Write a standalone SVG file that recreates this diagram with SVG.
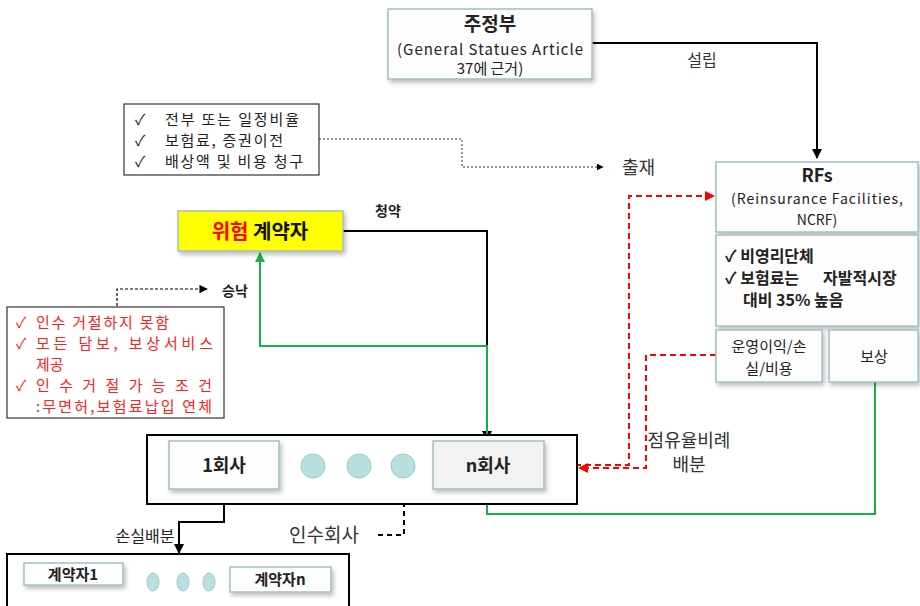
<svg xmlns="http://www.w3.org/2000/svg" width="920" height="606" viewBox="0 0 920 606">
<style>
text{font-family:"Noto Sans CJK KR","Noto Sans",sans-serif;}
.box{fill:#fdfdfd;stroke:#a3bfbf;stroke-width:1.5;filter:url(#sh);}
.frame{fill:#fff;stroke:#000;stroke-width:2;}
.thin{fill:#fff;stroke:#333;stroke-width:1.2;}
.dot{fill:#b9dfe0;stroke:#9cc7c9;stroke-width:1;}
.t{fill:#222;}
.g{fill:#333;}
.r{fill:#ff2020;}
.blk{fill:none;stroke:#000;stroke-width:2;}
.grn{fill:none;stroke:#18b04a;stroke-width:2;}
.red{fill:none;stroke:#ff0000;stroke-width:2;stroke-dasharray:6,4;}
.dsh{fill:none;stroke:#000;stroke-width:2;stroke-dasharray:5,4;}
.dot1{fill:none;stroke:#333;stroke-width:1;stroke-dasharray:2,2;}
</style>
<defs>
<filter id="sh" x="-10%" y="-10%" width="130%" height="140%"><feDropShadow dx="2" dy="3" stdDeviation="2" flood-color="#000" flood-opacity="0.25"/></filter>
<marker id="ab" viewBox="0 0 10 10" refX="9" refY="5" markerWidth="5" markerHeight="5" orient="auto"><path d="M0,0L10,5L0,10z" fill="#000"/></marker>
<marker id="ag" viewBox="0 0 10 10" refX="9" refY="5" markerWidth="5" markerHeight="5" orient="auto"><path d="M0,0L10,5L0,10z" fill="#18b04a"/></marker>
<marker id="ar" viewBox="0 0 10 10" refX="9" refY="5" markerWidth="5" markerHeight="5" orient="auto"><path d="M0,0L10,5L0,10z" fill="#ff0000"/></marker>
<marker id="as" viewBox="0 0 10 10" refX="9" refY="5" markerWidth="7" markerHeight="7" orient="auto"><path d="M0,0L10,5L0,10z" fill="#000"/></marker>
</defs>

<g id="connectors">
<path class="blk" d="M592,43H817V158" marker-end="url(#ab)"/>
<path class="dot1" d="M319,139H462V167H603" marker-end="url(#as)"/>
<path class="red" d="M545,465H629V196H714" marker-end="url(#ar)"/>
<path class="red" d="M716,355H646V468H579" marker-end="url(#ar)"/>
<path class="blk" d="M343,231H487V440" marker-end="url(#ab)"/>
<path class="grn" d="M487,441V346H260V253" marker-end="url(#ag)"/>
<path class="grn" d="M875,382V514H487V491" marker-end="url(#ag)"/>
<path class="dsh" d="M117,306V289H207" marker-end="url(#as)" style="stroke-width:1.2;stroke-dasharray:3,2"/>
<path class="dsh" d="M403,466H432" marker-end="url(#ab)"/>
<path class="dsh" d="M404,466V535H375"/>
<path class="blk" d="M224,489V522H179V553" marker-end="url(#ab)"/>
</g>

<g id="labels">
<text class="g" x="702" y="66" font-size="16" text-anchor="middle">설립</text>
<text class="g" x="622" y="174" font-size="18">출재</text>
<text class="t" x="388" y="216" font-size="14" font-weight="bold" text-anchor="middle">청약</text>
<text class="t" x="222" y="296" font-size="14" font-weight="bold">승낙</text>
<text class="g" x="689" y="447" font-size="18" text-anchor="middle">점유율비례</text>
<text class="g" x="689" y="471" font-size="18" text-anchor="middle">배분</text>
<text class="g" x="324" y="542" font-size="19" text-anchor="middle">인수회사</text>
<text class="t" x="145" y="542" font-size="16" text-anchor="middle">손실배분</text>
</g>

<g id="gov">
<rect class="box" x="388" y="9" width="204" height="70"/>
<text class="t" x="490" y="31" font-size="19" font-weight="bold" text-anchor="middle">주정부</text>
<text class="t" x="490" y="55" font-size="15" text-anchor="middle" textLength="186">(General Statues Article</text>
<text class="t" x="490" y="74" font-size="15" text-anchor="middle">37에 근거)</text>
</g>

<g id="cession-list">
<rect class="thin" x="124" y="104" width="195" height="71"/>
<text class="t" font-size="15"><tspan x="135" y="125">✓</tspan><tspan x="165" y="125" textLength="134">전부 또는 일정비율</tspan><tspan x="135" y="146">✓</tspan><tspan x="165" y="146" textLength="118">보험료, 증권이전</tspan><tspan x="135" y="167">✓</tspan><tspan x="165" y="167" textLength="138">배상액 및 비용 청구</tspan></text>
</g>

<g id="rfs">
<rect class="box" x="716" y="162" width="202" height="70"/>
<text class="t" x="817" y="182" font-size="18" font-weight="bold" text-anchor="middle">RFs</text>
<text class="t" x="817" y="204" font-size="14" text-anchor="middle" textLength="172">(Reinsurance Facilities,</text>
<text class="t" x="817" y="225" font-size="14" text-anchor="middle">NCRF)</text>
</g>

<g id="rfs-info">
<rect class="box" x="716" y="235" width="202" height="91"/>
<text class="t" font-size="16" font-weight="bold"><tspan x="725" y="262">✓ 비영리단체</tspan><tspan x="725" y="284">✓ 보험료는</tspan><tspan x="823" y="284">자발적시장</tspan><tspan x="743" y="306">대비 35% 높음</tspan></text>
</g>

<g id="operating">
<rect class="box" x="716" y="330" width="106" height="52"/>
<text class="t" x="769" y="352" font-size="15" text-anchor="middle">운영이익/손</text>
<text class="t" x="769" y="374" font-size="15" text-anchor="middle">실/비용</text>
</g>

<g id="compensation">
<rect class="box" x="829" y="330" width="89" height="52"/>
<text class="t" x="874" y="362" font-size="15" text-anchor="middle">보상</text>
</g>

<g id="policyholder">
<rect x="178" y="211" width="165" height="40" fill="#ffff00" stroke="#a3bfbf" stroke-width="1.5" filter="url(#sh)"/>
<text x="260" y="239" font-size="20" font-weight="bold" text-anchor="middle"><tspan fill="#ff0000">위험</tspan><tspan fill="#111"> 계약자</tspan></text>
</g>

<g id="conditions">
<rect class="thin" x="7" y="307" width="217" height="111"/>
<text class="r" font-size="15"><tspan x="16" y="328">✓</tspan><tspan x="36" y="328" textLength="133">인수 거절하지 못함</tspan><tspan x="16" y="349">✓</tspan><tspan x="36" y="349" textLength="177">모든  담보,  보상서비스</tspan><tspan x="36" y="370">제공</tspan><tspan x="16" y="391">✓</tspan><tspan x="36" y="391" textLength="176">인 수 거 절    가 능 조 건</tspan><tspan x="36" y="412" textLength="176">:무면허,보험료납입 연체</tspan></text>
</g>

<g id="insurers">
<rect class="frame" x="147" y="435" width="430" height="69"/>
</g>

<g id="company-1">
<rect class="box" x="169" y="441" width="110" height="48"/>
<text class="t" x="224" y="472" font-size="18" font-weight="bold" text-anchor="middle">1회사</text>
</g>

<g id="dots-mid">
<circle class="dot" cx="313" cy="466" r="12"/>
<circle class="dot" cx="359" cy="466" r="12"/>
<circle class="dot" cx="403" cy="466" r="12"/>
</g>

<g id="company-n">
<rect class="box" x="433" y="441" width="111" height="48" style="fill:#f2f2f2"/>
<text class="t" x="488" y="472" font-size="18" font-weight="bold" text-anchor="middle">n회사</text>
</g>

<g id="policyholders">
<rect class="frame" x="7" y="554" width="342" height="60"/>
</g>

<g id="holder-1">
<rect class="box" x="24" y="563" width="99" height="22"/>
<text class="t" x="73" y="580" font-size="15" font-weight="bold" text-anchor="middle">계약자1</text>
</g>

<g id="dots-bottom">
<ellipse class="dot" cx="153" cy="582" rx="6" ry="9"/>
<ellipse class="dot" cx="183" cy="582" rx="6" ry="9"/>
<ellipse class="dot" cx="209" cy="582" rx="6" ry="9"/>
</g>

<g id="holder-n">
<rect class="box" x="230" y="567" width="101" height="25"/>
<text class="t" x="280" y="585" font-size="15" font-weight="bold" text-anchor="middle">계약자n</text>
</g>
</svg>
